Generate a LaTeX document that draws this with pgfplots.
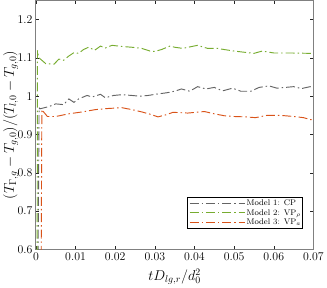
\documentclass[border=0pt]{standalone}
\usepackage{pgfplots}
\pgfplotsset{compat=1.18}
\definecolor{cpgray}{RGB}{100,100,100}
\definecolor{vpgreen}{RGB}{119,172,48}
\definecolor{vporange}{RGB}{217,83,25}
\begin{document}
\begin{tikzpicture}
\begin{axis}[
  scale only axis,
  width=280bp, height=251bp,
  xmin=0, xmax=0.07, ymin=0.6, ymax=1.25,
  xtick={0,0.01,...,0.07},
  ytick={0.6,0.7,0.8,0.9,1,1.1,1.2},
  scaled x ticks=false,
  xticklabel style={/pgf/number format/fixed,/pgf/number format/precision=2},
  yticklabel style={/pgf/number format/fixed,/pgf/number format/precision=1},
  tick label style={font=\fontsize{12.5}{14}\selectfont},
  xlabel={$tD_{lg,r}/d_0^2$},
  ylabel={$(T_{\Gamma,g}-T_{g,0})/(T_{l,0}-T_{g,0})$},
  xlabel style={font=\fontsize{14.5}{16}\selectfont, at={(axis description cs:0.5,-0.11)}, anchor=center},
  ylabel style={font=\fontsize{14.5}{16}\selectfont, at={(axis description cs:-0.091,0.5)}, anchor=center},
  axis line style={black!50, line width=1.1pt},
  tick style={black!85, line width=0.5pt},
  tick align=inside,
  major tick length=3pt,
  clip=true,
  legend style={at={(rel axis cs:0.962,0.084)}, anchor=south east,
    font=\fontsize{8.3}{9.5}\selectfont, draw=black, line width=0.6pt,
    row sep=0pt, inner sep=1.5pt, nodes={inner sep=1pt}},
  legend cell align=left,
  legend image code/.code={\draw[#1] (0bp,0bp) -- (56bp,0bp);},
  every axis plot/.append style={line width=0.95pt, dash pattern=on 9bp off 3bp on 1.5bp off 3bp},
]
\addplot[color=cpgray] coordinates {
(0.0005,0.5) (0.0008,0.97) (0.001,0.967) (0.0033,0.973) (0.005,0.980) (0.007,0.978)
(0.0083,0.993) (0.0096,0.984) (0.0108,0.993) (0.0129,1.002) (0.0142,0.998)
(0.0163,1.005) (0.0175,0.996) (0.0196,1.002) (0.0217,1.004) (0.0242,1.002)
(0.0263,1.0) (0.0283,1.002) (0.0308,1.006) (0.033,1.009) (0.035,1.013)
(0.0367,1.019) (0.0388,1.013) (0.0408,1.025) (0.0429,1.019) (0.045,1.023)
(0.0471,1.014) (0.0496,1.021) (0.0517,1.013) (0.0542,1.013) (0.0563,1.023)
(0.0588,1.027) (0.0608,1.021) (0.0629,1.023) (0.065,1.025) (0.067,1.02)
(0.0692,1.025) (0.07,1.022)
};
\addlegendentry{\makebox[54bp][l]{Model 1: CP}}
\addplot[color=vpgreen] coordinates {
(0.0003,0.5) (0.0004,1.12) (0.0007,1.101) (0.0025,1.085) (0.0046,1.084)
(0.0058,1.097) (0.007,1.094) (0.0083,1.105) (0.0096,1.114) (0.0108,1.112)
(0.012,1.122) (0.0133,1.128) (0.0148,1.120) (0.0163,1.131) (0.0175,1.126)
(0.0192,1.133) (0.0217,1.130) (0.0242,1.128) (0.0267,1.125) (0.0288,1.118)
(0.03,1.117) (0.0317,1.122) (0.0338,1.131) (0.035,1.128) (0.037,1.125)
(0.0408,1.133) (0.0433,1.125) (0.0458,1.125) (0.0475,1.122) (0.05,1.118)
(0.055,1.112) (0.0571,1.118) (0.06,1.113) (0.0642,1.113) (0.0692,1.112) (0.07,1.112)
};
\addlegendentry{\makebox[54bp][l]{Model 2: VP$_\rho$}}
\addplot[color=vporange] coordinates {
(0.0013,0.5) (0.0015,0.965) (0.0017,0.962) (0.0029,0.947) (0.005,0.947)
(0.0083,0.954) (0.0117,0.959) (0.015,0.965) (0.0183,0.968) (0.0217,0.970)
(0.0242,0.965) (0.0267,0.959) (0.0288,0.953) (0.0308,0.946) (0.033,0.952)
(0.0346,0.958) (0.0383,0.956) (0.0425,0.960) (0.045,0.954) (0.0475,0.949)
(0.05,0.947) (0.0529,0.946) (0.0554,0.944) (0.0583,0.950) (0.0617,0.950)
(0.065,0.947) (0.0675,0.944) (0.0692,0.939) (0.07,0.939)
};
\addlegendentry{\makebox[54bp][l]{Model 3: VP$_a$}}
\end{axis}
\end{tikzpicture}
\end{document}
